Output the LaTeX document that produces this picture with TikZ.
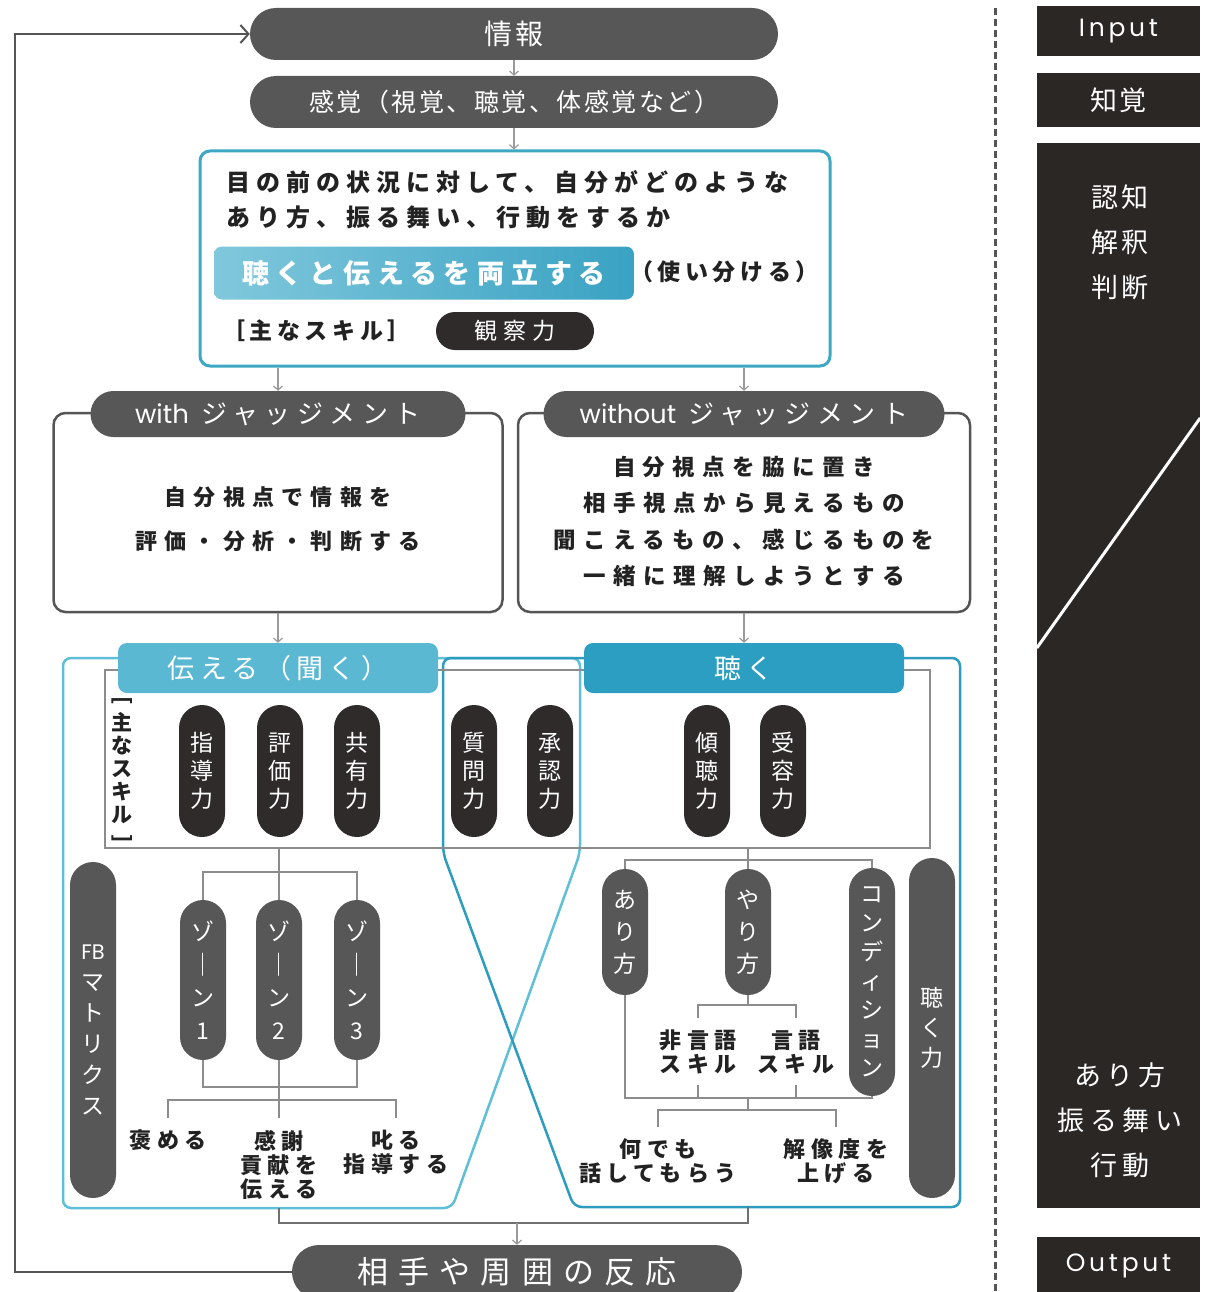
\documentclass[tikz,border=0pt]{standalone}
\usepackage{fontspec}
\usepackage{graphicx}
\setmainfont{Noto Sans CJK JP}
\newfontfamily\jpA{Noto Sans CJK JP}
\newfontfamily\jpS[LetterSpace=10]{Noto Sans CJK JP}
\newfontfamily\jpM[LetterSpace=20]{Noto Sans CJK JP}
\newfontfamily\jpL[LetterSpace=25]{Noto Sans CJK JP}
\newfontfamily\jpXL[LetterSpace=33]{Noto Sans CJK JP}
\newfontfamily\latS[LetterSpace=15]{Poppins}
\newfontfamily\latw{Poppins}
\newcommand{\fsz}[2]{\fontsize{#1}{#2}\selectfont}
\usetikzlibrary{arrows.meta}
\definecolor{pillgray}{HTML}{575757}
\definecolor{pillblack}{HTML}{2E2B2A}
\definecolor{colblack}{HTML}{2B2725}
\definecolor{tealA}{HTML}{3DA8C3}
\definecolor{tealL}{HTML}{5EBFD6}
\definecolor{tealD}{HTML}{2E9CBE}
\definecolor{hdrL}{HTML}{5BB8D2}
\definecolor{hdrD}{HTML}{2B9EC1}
\definecolor{blueL}{HTML}{80C8DC}
\definecolor{blueR}{HTML}{3AA2C3}
\definecolor{lineG}{HTML}{8C8C8C}
\definecolor{lineD}{HTML}{707070}
\definecolor{boxG}{HTML}{555555}
\definecolor{arrG}{HTML}{9A9A9A}
\definecolor{txt}{HTML}{222222}
\begin{document}
\begin{tikzpicture}[x=1pt,y=-1pt,
  dpill/.style={fill=pillgray,text=white,inner sep=0pt,rounded corners=#1},
  bpill/.style={fill=pillblack,text=white,inner sep=0pt,rounded corners=#1},
  vpill/.style={fill=pillgray,text=white,inner sep=0pt,rounded corners=23pt,minimum width=46pt,align=center,font=\fsz{23}{31}\jpA},
  vbpill/.style={fill=pillblack,text=white,inner sep=0pt,rounded corners=23pt,minimum width=46pt,minimum height=132pt,align=center,font=\fsz{23}{28}\jpA},
  judgebox/.style={draw=boxG,line width=2.5pt,rounded corners=12pt,inner sep=0pt,minimum height=199pt},
  hdr/.style={inner sep=0pt,rounded corners=9pt,minimum width=320pt,minimum height=50pt,text=white,font=\fsz{27}{30}\jpM},
  conn/.style={draw=lineG,line width=2.5pt},
  smallarr/.style={draw=arrG,line width=1.2pt,-{Straight Barb[length=4pt,width=9pt]}},
  loopln/.style={draw=boxG,line width=2pt},
  txtB/.style={text=txt,inner sep=0pt},
  lowtxt/.style={text=txt,inner sep=0pt,align=center,font=\fsz{22}{24}\jpL\bfseries},
  colbox/.style={fill=colblack,text=white,inner sep=0pt,minimum width=163pt}
]
\fill[white] (0,0) rectangle (1205,1292);
\useasboundingbox (0,0) rectangle (1205,1292);

% ---------- top flow ----------
\node[dpill=26pt,minimum width=528pt,minimum height=52pt,font=\fsz{28}{32}\jpS] (info) at (514,34) {情報};
\node[dpill=26pt,minimum width=528pt,minimum height=52pt,font=\fsz{25}{28}\jpS] (kankaku) at (514,102) {感覚（視覚、聴覚、体感覚など）};
\draw[smallarr] (info.south) -- (kankaku.north);

\node[draw=tealA,line width=3pt,rounded corners=10pt,inner sep=0pt,minimum width=630pt,minimum height=215pt] (mainbox) at (515,258.5) {};
\draw[smallarr] (kankaku.south) -- (kankaku.south |- mainbox.north);

\node[txtB,anchor=west,font=\fsz{24}{28}\jpL\bfseries] (l1) at (226,182) {目の前の状況に対して、自分がどのような};
\node[txtB,anchor=west,font=\fsz{24}{28}\jpL\bfseries] (l2) at (226,217) {あり方、振る舞い、行動をするか};
\node[inner sep=0pt,rounded corners=8pt,minimum width=420pt,minimum height=53pt,left color=blueL,right color=blueR,text=white,font=\fsz{27}{30}\jpL\bfseries] (ryoritsu) at (424,273) {聴くと伝えるを両立する};
\node[txtB,anchor=west,font=\fsz{23}{28}\jpM\bfseries] (tsukai) at (630,272) {（使い分ける）};
\node[txtB,anchor=west,font=\fsz{23}{28}\jpM\bfseries] (omo) at (222,331) {［主なスキル］};
\node[bpill=19pt,minimum width=158pt,minimum height=38pt,font=\fsz{23}{28}\jpL] (kansatsu) at (515,331) {観察力};

% ---------- judgement boxes ----------
\node[judgebox,minimum width=449pt] (withbox) at (278,512.5) {};
\node[judgebox,minimum width=452pt] (withoutbox) at (744,512.5) {};
\node[dpill=23pt,minimum width=375pt,minimum height=46pt,font=\fsz{26}{28}\jpL] (withpill) at (278,414) {{\latw with} ジャッジメント};
\node[dpill=23pt,minimum width=401pt,minimum height=46pt,font=\fsz{26}{28}\jpL] (withoutpill) at (744,414) {{\latw without} ジャッジメント};
\draw[smallarr] (mainbox.south -| withpill.north) -- (withpill.north);
\draw[smallarr] (mainbox.south -| withoutpill.north) -- (withoutpill.north);

\node[txtB,align=center,font=\fsz{22}{44}\jpXL\bfseries] (withtxt) at (278,519) {自分視点で情報を\\評価・分析・判断する};
\node[txtB,align=center,font=\fsz{22.5}{36.3}\jpXL\bfseries] (withouttxt) at (744,521.5) {自分視点を脇に置き\\相手視点から見えるもの\\聞こえるもの、感じるものを\\一緒に理解しようとする};

% ---------- teal areas ----------
\draw[draw=tealL,line width=2.5pt,rounded corners=8pt] (63,658) -- (63,1208) -- (452,1208) -- (580,853) -- (580,658) -- cycle;
\draw[draw=tealD,line width=2.5pt,rounded corners=8pt] (443,658) -- (960,658) -- (960,1207) -- (574,1207) -- (443,853) -- cycle;

\node[draw=lineG,line width=2.5pt,inner sep=0pt,minimum width=825pt,minimum height=178pt] (skillbox) at (517.5,759) {};

\node[hdr,fill=hdrL] (tsutaeru) at (278,668) {伝える（聞く）};
\node[hdr,fill=hdrD] (kiku) at (744,668) {聴く};
\draw[smallarr] (withbox.south) -- (tsutaeru.north);
\draw[smallarr] (withoutbox.south) -- (kiku.north);

\node[txtB,align=center,font=\fsz{21}{23}\jpA\bfseries] (skilllbl) at (122,771) {\rotatebox[origin=c]{-90}{[}\\主\\な\\ス\\キ\\ル\\\rotatebox[origin=c]{-90}{]}};

\node[vbpill] (shido) at (202,771) {指\\導\\力};
\node[vbpill] (hyoka) at (280,771) {評\\価\\力};
\node[vbpill] (kyoyu) at (357,771) {共\\有\\力};
\node[vbpill] (shitsumon) at (474,771) {質\\問\\力};
\node[vbpill] (shonin) at (550,771) {承\\認\\力};
\node[vbpill] (keicho) at (707,771) {傾\\聴\\力};
\node[vbpill] (juyo) at (783,771) {受\\容\\力};

% ---------- lower left ----------
\node[vpill,minimum height=336pt] (fb) at (93,1030) {{\latw\fsz{21}{31}FB}\\マ\\ト\\リ\\ク\\ス};
\node[vpill,minimum height=160pt,font=\fsz{23}{33}\jpA] (zone1) at (203,980) {ゾ\\｜\\ン\\1};
\node[vpill,minimum height=160pt,font=\fsz{23}{33}\jpA] (zone2) at (279,980) {ゾ\\｜\\ン\\2};
\node[vpill,minimum height=160pt,font=\fsz{23}{33}\jpA] (zone3) at (357,980) {ゾ\\｜\\ン\\3};
\draw[conn] (zone2.north) -- (zone2.north |- skillbox.south);
\draw[conn] (zone1.north) -- ++(0,-28) -| (zone3.north);
\draw[conn] (zone1.south) -- ++(0,27) -| (zone3.south);
\coordinate (lb) at (279,1100);
\coordinate (hm) at (168,1118);
\coordinate (ks) at (279,1118);
\coordinate (sk) at (396,1118);
\draw[conn] (zone2.south) -- (lb);
\draw[conn] (hm) |- (lb) -| (sk);
\draw[conn] (lb) -- (ks);
\node[lowtxt] (homeru) at (168,1140) {褒める};
\node[lowtxt] (kansha) at (279,1165) {感謝\\貢献を\\伝える};
\node[lowtxt] (shikaru) at (396,1152.5) {叱る\\指導する};

% ---------- lower right ----------
\node[vpill,minimum height=126pt,font=\fsz{23}{32}\jpA] (ari) at (625,932) {あ\\り\\方};
\node[vpill,minimum height=126pt,font=\fsz{23}{32}\jpA] (yari) at (748,932) {や\\り\\方};
\node[vpill,minimum height=228pt,font=\fsz{23}{29}\jpA] (cond) at (872,982) {コ\\ン\\デ\\ィ\\シ\\ョ\\ン};
\node[vpill,minimum height=340pt,font=\fsz{23}{30}\jpA] (kikuryoku) at (932,1028) {聴\\く\\力};
\draw[conn] (yari.north) -- (yari.north |- skillbox.south);
\draw[conn] (ari.north) -- ++(0,-9) -| (cond.north);
\draw[conn] (yari.south) -- ++(0,10) coordinate (yb);
\coordinate (hg) at (698,1018);
\coordinate (gg) at (796,1018);
\draw[conn] (hg) |- (yb) -| (gg);
\node[lowtxt] (higengo) at (698,1052) {非言語\\スキル};
\node[lowtxt] (gengo) at (796,1052) {言語\\スキル};
\coordinate (mb) at (748,1098);
\draw[conn] (ari.south) |- (mb) -| (cond.south);
\coordinate (hg2) at (698,1085);
\coordinate (gg2) at (796,1085);
\draw[conn] (hg2) -- (hg2 |- mb);
\draw[conn] (gg2) -- (gg2 |- mb);
\coordinate (nb) at (748,1110);
\coordinate (nd1) at (658,1127);
\coordinate (nd2) at (836,1127);
\draw[conn] (mb) -- (nb);
\draw[conn] (nd1) |- (nb) -| (nd2);
\node[lowtxt] (nandemo) at (658,1161.5) {何でも\\話してもらう};
\node[lowtxt] (kaizodo) at (836,1161.5) {解像度を\\上げる};

% ---------- bottom ----------
\node[dpill=27pt,minimum width=450pt,minimum height=54pt,font=\fsz{31}{34}\jpXL] (hanno) at (517,1272) {相手や周囲の反応};
\coordinate (ol) at (279,1208);
\coordinate (orr) at (748,1207);
\coordinate (jn) at (517,1223);
\draw[conn,draw=lineD] (ol) |- (jn) -| (orr);
\draw[smallarr] (jn) -- (hanno.north);

% feedback loop
\coordinate (lc) at (15,1272);
\draw[loopln,-{Straight Barb[length=8pt,width=18pt]}] (hanno.west) -- (lc) |- (info.west);

% ---------- right column ----------
\draw[draw=boxG,line width=3pt,dash pattern=on 7pt off 4pt] (995,8) -- (995,1292);
\node[colbox,minimum height=50pt,font=\fsz{25}{28}\latS] (inbox) at (1118.5,31.5) {Input};
\node[colbox,minimum height=54pt,font=\fsz{27}{30}\jpS] (chikaku) at (1118.5,100) {知覚};
\node[colbox,minimum height=1065pt] (colmid) at (1118.5,675.5) {};
\draw[white,line width=3pt] (colmid.west |- 0,648) -- (colmid.east |- 0,418);
\node[text=white,inner sep=0pt,align=center,font=\fsz{27}{45}\jpS] (ninchi) at (1120,242) {認知\\解釈\\判断};
\node[text=white,inner sep=0pt,align=center,font=\fsz{27}{45}\jpM] (arikata) at (1120,1120) {あり方\\振る舞い\\行動};
\node[colbox,minimum height=58pt,font=\fsz{25}{28}\latS] (outbox) at (1118.5,1266) {Output};
\end{tikzpicture}
\end{document}
